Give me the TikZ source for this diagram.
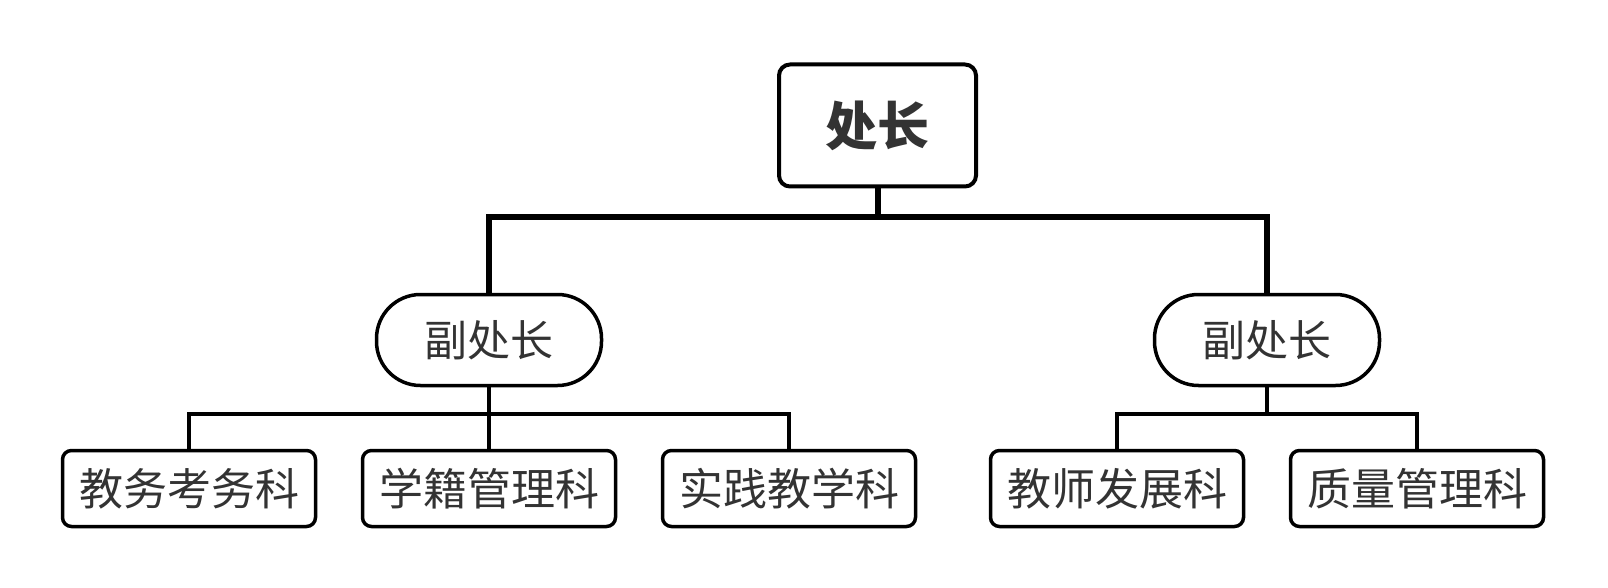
\documentclass[tikz,border=0pt]{standalone}
\usepackage{fontspec}
\setmainfont{Noto Sans CJK SC}
\definecolor{txt}{HTML}{333333}
\tikzset{
  topbox/.style={draw=black, line width=4pt, rounded corners=11pt, fill=white,
    minimum width=197pt, minimum height=122pt, inner sep=0pt, text=txt,
    font=\fontsize{52}{60}\selectfont\bfseries},
  vicebox/.style={draw=black, line width=3.5pt, rounded corners=44pt, fill=white,
    minimum width=225pt, minimum height=91pt, inner sep=0pt, text=txt,
    font=\fontsize{43}{50}\selectfont},
  unitbox/.style={draw=black, line width=3.5pt, rounded corners=9pt, fill=white,
    minimum width=253pt, minimum height=76pt, inner sep=0pt, text=txt,
    font=\fontsize{44}{50}\selectfont},
  busthick/.style={draw=black, line width=6pt},
  busthin/.style={draw=black, line width=4pt},
}
\begin{document}
\begin{tikzpicture}[x=1pt, y=-1pt]
\useasboundingbox (0,0) rectangle (1608,588);
\node[topbox] (top) at (877.5,125.5) {处长};
\node[vicebox] (v1) at (489,340) {副处长};
\node[vicebox] (v2) at (1267,340) {副处长};
\node[unitbox] (u1) at (189,488.5) {\raisebox{1.5pt}{教务考务科}};
\node[unitbox] (u2) at (489,488.5) {\raisebox{1.5pt}{学籍管理科}};
\node[unitbox] (u3) at (789,488.5) {\raisebox{1.5pt}{实践教学科}};
\node[unitbox] (u4) at (1117,488.5) {\raisebox{1.5pt}{教师发展科}};
\node[unitbox] (u5) at (1417,488.5) {\raisebox{1.5pt}{质量管理科}};
\coordinate (tb) at (877.5,217);
\coordinate (lb) at (489,414);
\coordinate (rb) at (1267,414);
\draw[busthick] (top.south) -- (tb);
\draw[busthick] (v1.north) |- (tb) -| (v2.north);
\draw[busthin] (v1.south) -- (lb);
\draw[busthin] (u1.north) |- (lb) -| (u3.north);
\draw[busthin] (u2.north) -- (lb);
\draw[busthin] (v2.south) -- (rb);
\draw[busthin] (u4.north) |- (rb) -| (u5.north);
\end{tikzpicture}
\end{document}
